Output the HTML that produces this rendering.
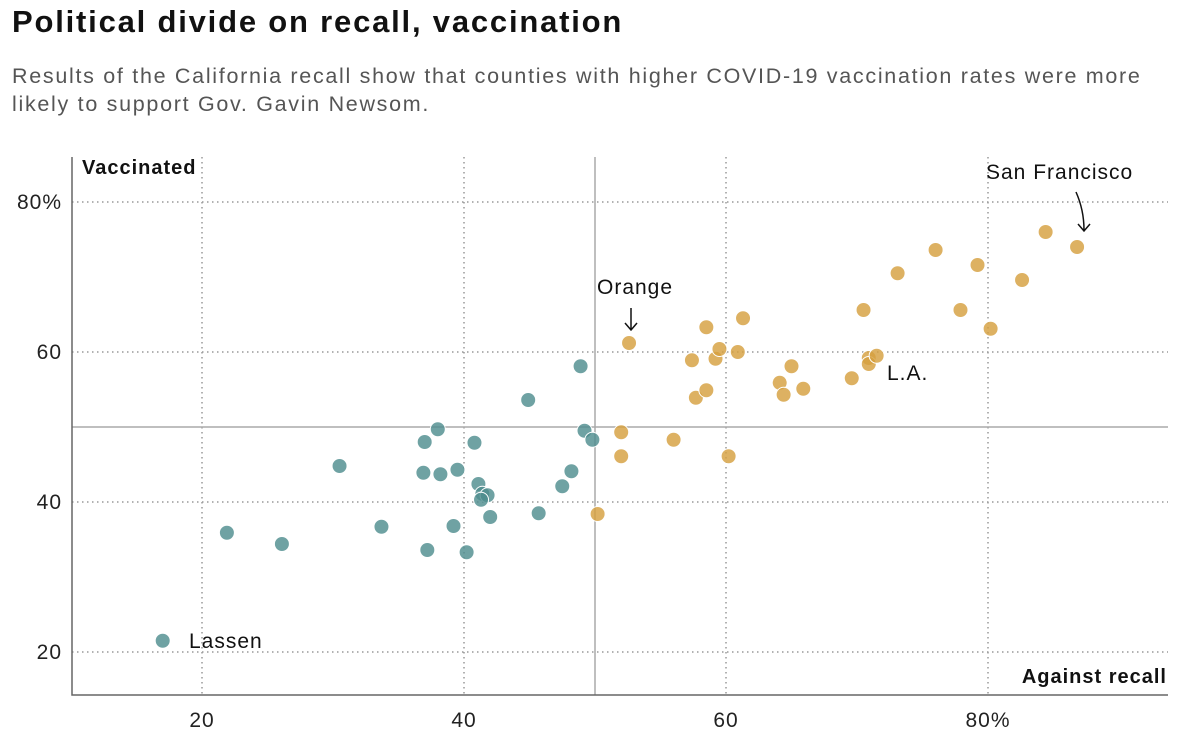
<!DOCTYPE html>
<html><head><meta charset="utf-8"><style>
body{margin:0;background:#fff;width:1200px;height:738px;overflow:hidden;font-family:"Liberation Sans",sans-serif}
h1{position:absolute;left:12px;top:4px;margin:0;font-size:31px;font-weight:bold;color:#111;letter-spacing:1.8px}
p{position:absolute;left:12px;top:62px;margin:0;width:1165px;font-size:21.5px;line-height:28px;color:#555;letter-spacing:1.7px}
svg{position:absolute;left:0;top:0}
text{letter-spacing:1px}
</style></head><body>
<h1>Political divide on recall, vaccination</h1>
<p>Results of the California recall show that counties with higher COVID-19 vaccination rates were more likely to support Gov. Gavin Newsom.</p>
<svg id="c" width="1200" height="738"></svg>
<script>
const xTicks=[20,40,60,80];
const yTicks=[20,40,60,80];
const xTickLabels=["20","40","60","80%"];
const yTickLabels=["20","40","60","80%"];
const recallX=[17.0,21.9,26.1,30.5,33.7,36.9,37.0,38.0,38.2,37.2,39.2,39.5,40.8,40.2,41.1,41.4,41.8,41.3,42.0,44.9,45.7,47.5,48.2,48.9,49.2,49.8,
50.2,52.0,52.0,52.6,56.0,57.4,57.7,58.5,58.5,59.2,59.5,60.2,60.9,61.3,64.1,64.4,65.0,65.9,69.6,70.5,70.9,70.9,71.5,73.1,76.0,77.9,79.2,80.2,82.6,84.4,86.8];
const vaccY=[21.5,35.9,34.4,44.8,36.7,43.9,48.0,49.7,43.7,33.6,36.8,44.3,47.9,33.3,42.4,41.1,40.9,40.3,38.0,53.6,38.5,42.1,44.1,58.1,49.5,48.3,
38.4,49.3,46.1,61.2,48.3,58.9,53.9,54.9,63.3,59.1,60.4,46.1,60.0,64.5,55.9,54.3,58.1,55.1,56.5,65.6,59.2,58.4,59.5,70.5,73.6,65.6,71.6,63.1,69.6,76.0,74.0];
const X=v=>202+(v-20)*13.1;
const Y=v=>202-(v-80)*7.5;
const svg=document.getElementById('c');
const NS='http://www.w3.org/2000/svg';
function mk(t,a,txt){const e=document.createElementNS(NS,t);for(const k in a)e.setAttribute(k,a[k]);if(txt!==undefined)e.textContent=txt;svg.appendChild(e);return e;}
xTicks.forEach((t,i)=>{
 const g=mk('line',{x1:X(t),x2:X(t),y1:157,y2:695,stroke:'#999','stroke-width':1.5,'stroke-dasharray':'1.5,3.5'});
 
 
 const l=mk('text',{x:X(t),y:727,'text-anchor':'middle','font-size':21,fill:'#222'},xTickLabels[i]);
 
 
});
yTicks.forEach((t,i)=>{
 const g=mk('line',{x1:72,x2:1168,y1:Y(t),y2:Y(t),stroke:'#999','stroke-width':1.5,'stroke-dasharray':'1.5,3.5'});
 
 
 const l=mk('text',{x:62,y:Y(t)+7,'text-anchor':'end','font-size':21,fill:'#222'},yTickLabels[i]);
 
 
});
const ml=mk('line',{x1:X(50),x2:X(50),y1:157,y2:695,stroke:'#aaa','stroke-width':1.5});


const mh=mk('line',{x1:72,x2:1168,y1:Y(50),y2:Y(50),stroke:'#aaa','stroke-width':1.5});


const ax=mk('path',{d:'M72 157 V695 H1168',stroke:'#666','stroke-width':1.5,fill:'none'});


recallX.forEach((v,i)=>{
 const gold=v>=50;
 const c=mk('circle',{cx:X(v),cy:Y(vaccY[i]),r:7.5,fill:gold?'#d6a040':'#4f8e8f','fill-opacity':0.82,stroke:'#fff','stroke-width':1});
 
 
});
const yt=mk('text',{x:82,y:174,'font-size':20,'font-weight':'bold',fill:'#111','letter-spacing':'1.2'},'Vaccinated');


const xt=mk('text',{x:1167,y:683,'text-anchor':'end','font-size':20,'font-weight':'bold',fill:'#111'},'Against recall');


const a1=mk('text',{x:189,y:648,'font-size':21,fill:'#111'},'Lassen');


const a2=mk('text',{x:887,y:380,'font-size':21,fill:'#111'},'L.A.');


const a3=mk('text',{x:597,y:294,'font-size':21,fill:'#111'},'Orange');


const a4=mk('text',{x:986,y:179,'font-size':21,fill:'#111'},'San Francisco');


const ar1=mk('path',{d:'M631 308 V330 M625 323 L631 330 L637 323',stroke:'#111','stroke-width':1.5,fill:'none'});


const ar2=mk('path',{d:'M1076 192 Q1084 210 1084 230 M1078 224 L1084 231 L1090 224',stroke:'#111','stroke-width':1.5,fill:'none'});


</script>
</body></html>
